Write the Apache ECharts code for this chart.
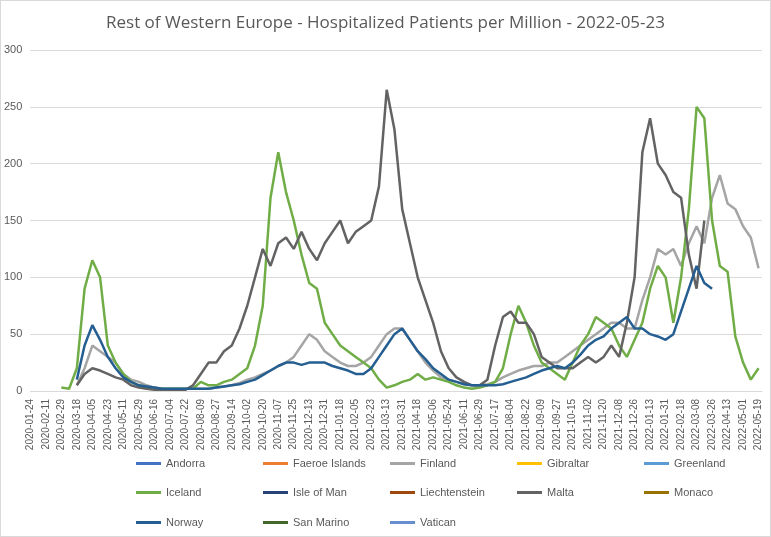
<!DOCTYPE html>
<html><head><meta charset="utf-8">
<script src="https://cdn.jsdelivr.net/npm/echarts@6/dist/echarts.min.js"></script>
<style>html,body{margin:0;padding:0;background:#fff}#c{width:769px;height:535px;border:1px solid #d9d9d9}</style>
</head><body><div id="c"></div>
<script>
// samples every 9 days starting 2020-01-24 (index k -> day 9k), null = no data
const startDate = "2020-01-24"
const endDate = "2022-05-23"
const step = 9

const countries = ["Andorra", "Faeroe Islands", "Finland", "Gibraltar", "Greenland",
    "Iceland", "Isle of Man", "Liechtenstein", "Malta", "Monaco",
    "Norway", "San Marino", "Vatican"]
const colors = ["#4472C4", "#ED7D31", "#A5A5A5", "#FFC000", "#5B9BD5",
    "#70AD47", "#264478", "#9E480E", "#636363", "#997300",
    "#255E91", "#43682B", "#698ED0"]

const iceland = [null, null, null, null, 3, 2, 20, 90, 115, 100, 40, 25, 15, 8, 5, 3, 2, 2, 2, 2, 2, 2, 8, 5, 5, 8,
    10, 15, 20, 40, 75, 170, 210, 175, 150, 120, 95, 90, 60, 50, 40, 35, 30, 25, 20, 10, 3, 5, 8, 10,
    15, 10, 12, 10, 8, 5, 3, 2, 3, 5, 8, 20, 50, 75, 60, 40, 25, 20, 15, 10, 25, 40, 50, 65,
    60, 55, 40, 30, 45, 60, 90, 110, 100, 60, 100, 160, 250, 240, 150, 110, 105, 48, 25, 10, 20]
const malta = [null, null, null, null, null, null, 5, 15, 20, 18, 15, 12, 10, 5, 3, 2, 1, 1, 1, 1, 1, 5, 15, 25,
    25, 35, 40, 55, 75, 100, 125, 110, 130, 135, 125, 140, 125, 115, 130, 140, 150, 130, 140, 145,
    150, 180, 265, 230, 160, 130, 100, 80, 60, 35, 20, 12, 8, 5, 5, 10, 40, 65, 70, 60, 60, 50,
    30, 25, 20, 20, 20, 25, 30, 25, 30, 40, 30, 60, 100, 210, 240, 200, 190, 175, 170, 120, 90, 150]
const finland = [null, null, null, null, null, null, 5, 20, 40, 35, 30, 25, 15, 10, 8, 5, 3, 2, 2, 2, 2, 2, 2, 2,
    3, 4, 5, 7, 10, 12, 15, 18, 22, 25, 30, 40, 50, 45, 35, 30, 25, 22, 22, 25, 30, 40, 50, 55,
    55, 45, 35, 25, 18, 12, 10, 8, 6, 5, 5, 6, 8, 12, 15, 18, 20, 22, 22, 25, 25, 30, 35, 40,
    45, 50, 55, 60, 60, 55, 55, 80, 100, 125, 120, 125, 110, 130, 145, 130, 170, 190, 165, 160, 145, 135, 108]
const norway = [null, null, null, null, null, null, 10, 40, 58, 45, 30, 20, 12, 8, 5, 4, 3, 2, 2, 2, 2, 2, 2, 2,
    3, 4, 5, 6, 8, 10, 14, 18, 22, 25, 25, 23, 25, 25, 25, 22, 20, 18, 15, 15, 20, 30, 40, 50,
    55, 45, 35, 28, 20, 15, 10, 8, 6, 5, 5, 5, 5, 6, 8, 10, 12, 15, 18, 20, 22, 20, 25, 32,
    40, 45, 48, 55, 60, 65, 55, 55, 50, 48, 45, 50, 70, 90, 110, 95, 90]

const samples = { "Finland": finland, "Iceland": iceland, "Malta": malta, "Norway": norway }

const dates = []
for (let d = new Date(startDate + "T00:00:00Z"); d <= new Date(endDate + "T00:00:00Z"); d.setUTCDate(d.getUTCDate() + 1)) {
    dates.push(d.toISOString().slice(0, 10))
}

function spread(vals) {
    const out = new Array(dates.length).fill(null)
    ;(vals || []).forEach((v, k) => { if (k * step < out.length) out[k * step] = v })
    return out
}

const series = countries.map((name, i) => ({
    name,
    type: "line",
    symbol: "none",
    connectNulls: true,
    data: spread(samples[name]),
    lineStyle: { width: 2.5, color: colors[i] },
    itemStyle: { color: colors[i] }
}))

// one legend per entry so the columns line up like the original
const rowTops = [452, 481, 511]
const legends = countries.map((name, i) => ({
    data: [name], top: rowTops[Math.floor(i / 5)], left: 130 + 127 * (i % 5),
    itemWidth: 25, itemHeight: 3, icon: "rect",
    textStyle: { color: "#595959", fontSize: 11 }
}))

const myEchart = echarts.init(document.getElementById("c"))
myEchart.setOption({
    animation: false,
    color: colors,
    title: {
        text: "Rest of Western Europe - Hospitalized Patients per Million - 2022-05-23",
        left: "center", top: 9,
        textStyle: { color: "#595959", fontSize: 17, fontWeight: "normal", fontFamily: "Open Sans" }
    },
    legend: legends,
    grid: { left: 28, right: 8, top: 49, bottom: 145, containLabel: false },
    xAxis: {
        type: "category", data: dates, boundaryGap: false,
        axisTick: { show: false },
        axisLine: { lineStyle: { color: "#d9d9d9" } },
        axisLabel: { interval: 17, rotate: 90, color: "#595959", fontSize: 10 }
    },
    yAxis: {
        type: "value", min: 0, max: 300, interval: 50,
        axisLabel: { color: "#595959", fontSize: 11 },
        splitLine: { lineStyle: { color: "#d9d9d9" } }
    },
    series
})
</script></body></html>
